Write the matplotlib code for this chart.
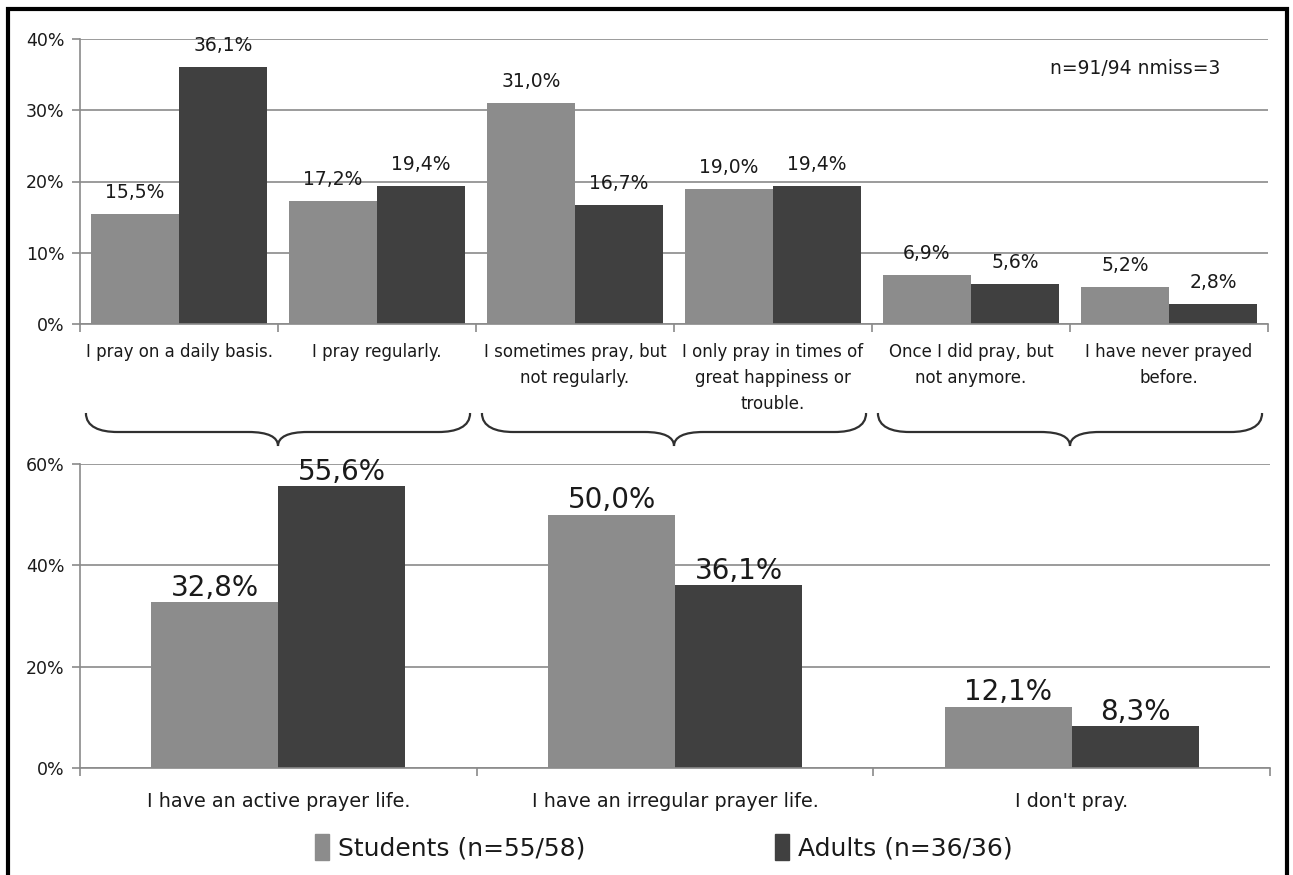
import numpy as np
import matplotlib
matplotlib.use("Agg")
import matplotlib.pyplot as plt
from matplotlib.path import Path
from matplotlib.patches import PathPatch, Rectangle
from matplotlib.transforms import blended_transform_factory
from matplotlib.ticker import FuncFormatter

# detailed answers (top chart)
detail_labels = ["I pray on a daily basis.", "I pray regularly.",
                 "I sometimes pray, but\nnot regularly.",
                 "I only pray in times of\ngreat happiness or\ntrouble.",
                 "Once I did pray, but\nnot anymore.",
                 "I have never prayed\nbefore."]
detail_students = [15.5, 17.2, 31.0, 19.0, 6.9, 5.2]
detail_adults = [36.1, 19.4, 16.7, 19.4, 5.6, 2.8]

# grouped answers (bottom chart)
group_labels = ["I have an active prayer life.", "I have an irregular prayer life.",
                "I don't pray."]
group_students = [32.8, 50.0, 12.1]
group_adults = [55.6, 36.1, 8.3]

series_names = ["Students (n=55/58)", "Adults (n=36/36)"]
note = "n=91/94 nmiss=3"

c_stud = "#8c8c8c"
c_adul = "#404040"
c_grid = "#8a8a8a"
c_text = "#1a1a1a"

plt.rcParams['font.family'] = ['DejaVu Sans']

W, H = 1293, 875
fig = plt.figure(figsize=(W / 100, H / 100), dpi=100)


def fy(py):
    return 1 - py / H


def fmt_pct(v):
    return ("%.1f%%" % v).replace(".", ",")


def style_axes(ax, n):
    ax.set_xlim(-0.5, n - 0.5)
    for s in ["top", "right"]:
        ax.spines[s].set_visible(False)
    for s in ["left", "bottom"]:
        ax.spines[s].set_color(c_grid)
        ax.spines[s].set_linewidth(1.2)
    ax.yaxis.grid(True, color=c_grid, linewidth=1.2)
    ax.set_axisbelow(True)
    ax.set_xticks(np.arange(n))
    ax.set_xticks(np.arange(n + 1) - 0.5, minor=True)
    ax.tick_params(axis="x", which="major", length=0, colors=c_text)
    ax.tick_params(axis="x", which="minor", length=6, color=c_grid, width=1.2)
    ax.tick_params(axis="y", length=6, color=c_grid, width=1.2, colors=c_text,
                   labelsize=12.5, pad=5)
    ax.yaxis.set_major_formatter(FuncFormatter(lambda v, p: "%d%%" % v))


# top chart
ax1 = fig.add_axes([80 / W, fy(324), 1188 / W, (324 - 39) / H])
x = np.arange(len(detail_labels))
w = 0.445
b1 = ax1.bar(x - w / 2, detail_students, w, color=c_stud)
b2 = ax1.bar(x + w / 2, detail_adults, w, color=c_adul)
ax1.set_ylim(0, 40)
ax1.set_yticks([0, 10, 20, 30, 40])
style_axes(ax1, len(detail_labels))
ax1.set_xticklabels(detail_labels, fontsize=12, linespacing=1.55, va="top")
ax1.tick_params(axis="x", which="major", pad=14)
for bars, vals in [(b1, detail_students), (b2, detail_adults)]:
    for r, v in zip(bars, vals):
        ax1.annotate(fmt_pct(v), (r.get_x() + r.get_width() / 2, v),
                     xytext=(0, 11.5), textcoords="offset points",
                     ha="center", va="baseline", fontsize=13.5, color=c_text)
ax1.text(0.888, 0.895, note, transform=ax1.transAxes, ha="center", va="center",
         fontsize=13.5, color=c_text)

# bottom chart
ax2 = fig.add_axes([80 / W, fy(768), 1190 / W, (768 - 464) / H])
x2 = np.arange(len(group_labels))
w2 = 0.32
c1 = ax2.bar(x2 - w2 / 2, group_students, w2, color=c_stud)
c2 = ax2.bar(x2 + w2 / 2, group_adults, w2, color=c_adul)
ax2.set_ylim(0, 60)
ax2.set_yticks([0, 20, 40, 60])
style_axes(ax2, len(group_labels))
ax2.set_xticklabels(group_labels, fontsize=13.8)
ax2.tick_params(axis="x", which="major", pad=17)
for bars, vals in [(c1, group_students), (c2, group_adults)]:
    for r, v in zip(bars, vals):
        ax2.annotate(fmt_pct(v), (r.get_x() + r.get_width() / 2, v),
                     xytext=(0, 4.5), textcoords="offset points",
                     ha="center", va="baseline", fontsize=20, color=c_text)

# braces linking the detailed answers to the groups
tr = blended_transform_factory(ax1.transData, fig.transFigure)
y_end, y_mid, y_tip = fy(413), fy(432), fy(446)
for g in range(3):
    x0 = 2 * g - 0.47
    x1 = 2 * g + 1.47
    xm = 2 * g + 0.5
    verts = [(x0, y_end), (x0, fy(427)), (x0 + 0.07, y_mid), (x0 + 0.16, y_mid),
             (xm - 0.15, y_mid),
             (xm - 0.05, y_mid), (xm, fy(437)), (xm, y_tip),
             (xm, fy(437)), (xm + 0.05, y_mid), (xm + 0.15, y_mid),
             (x1 - 0.16, y_mid),
             (x1 - 0.07, y_mid), (x1, fy(427)), (x1, y_end)]
    codes = [Path.MOVETO, Path.CURVE4, Path.CURVE4, Path.CURVE4,
             Path.LINETO,
             Path.CURVE4, Path.CURVE4, Path.CURVE4,
             Path.CURVE4, Path.CURVE4, Path.CURVE4,
             Path.LINETO,
             Path.CURVE4, Path.CURVE4, Path.CURVE4]
    fig.add_artist(PathPatch(Path(verts, codes), transform=tr, fill=False,
                             edgecolor="#303030", linewidth=1.6))

# legend
handles = [Rectangle((0, 0), 1, 1, color=c_stud), Rectangle((0, 0), 1, 1, color=c_adul)]
fig.legend(handles, series_names, loc="center", bbox_to_anchor=(0.5135, fy(847)),
           ncol=2, frameon=False, fontsize=18, handlelength=0.55, handleheight=1.25,
           handletextpad=0.35, columnspacing=7.6, labelcolor=c_text)

# outer frame
fig.add_artist(Rectangle((8 / W, -0.05), 1279 / W, 1.05 - 9 / H, transform=fig.transFigure,
                         fill=False, edgecolor="black", linewidth=3))

fig.savefig("out.png", dpi=100)
